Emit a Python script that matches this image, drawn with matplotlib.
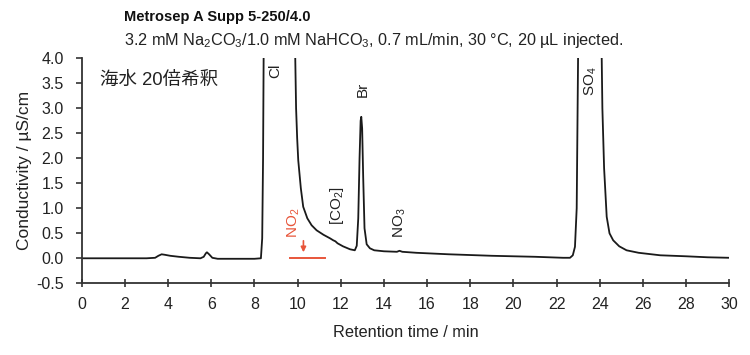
import matplotlib
matplotlib.use('Agg')
import matplotlib.pyplot as plt

plt.rcParams['font.family'] = ['Liberation Sans', 'Noto Sans CJK JP', 'DejaVu Sans']
plt.rcParams['mathtext.fontset'] = 'custom'
plt.rcParams['mathtext.rm'] = 'Liberation Sans'
plt.rcParams['mathtext.it'] = 'Liberation Sans'

# chromatogram trace (min, uS/cm)
time_min = [0.0, 1.0, 2.0, 3.0, 3.4, 3.55, 3.7, 3.85, 4.1, 4.5, 5.0, 5.5, 5.65,
            5.75, 5.8, 5.9, 6.05, 6.3, 7.0, 8.0, 8.3, 8.36, 8.40, 8.43, 9.0,
            9.88, 9.93, 9.98, 10.03, 10.15, 10.26, 10.45, 10.65, 10.88, 11.2,
            11.5, 11.65, 11.75, 11.85, 12.1, 12.43, 12.65, 12.74, 12.81, 12.87,
            12.92, 12.95, 12.99, 13.04, 13.1, 13.2, 13.35, 13.55, 14.0, 14.6,
            14.72, 14.85, 15.5, 17.0, 19.0, 21.0, 22.3, 22.62, 22.75, 22.85,
            22.93, 23.0, 23.5, 24.08, 24.12, 24.2, 24.32, 24.45, 24.62, 24.9,
            25.24, 25.8, 26.8, 28.0, 29.0, 30.0]
conductivity = [0.0, 0.0, 0.0, 0.0, 0.01, 0.05, 0.08, 0.07, 0.05, 0.03, 0.01, 0.0, 0.03,
                0.10, 0.12, 0.08, 0.01, -0.01, -0.01, -0.01, 0.0, 0.4, 2.0, 4.3, 50.0,
                4.3, 3.0, 2.4, 1.96, 1.4, 1.03, 0.8, 0.66, 0.56, 0.47,
                0.40, 0.36, 0.34, 0.30, 0.24, 0.18, 0.16, 0.25, 0.8, 2.0,
                2.75, 2.83, 2.6, 1.6, 0.6, 0.28, 0.2, 0.16, 0.14, 0.13,
                0.15, 0.13, 0.11, 0.08, 0.05, 0.03, 0.01, 0.01, 0.06, 0.23,
                1.0, 4.3, 60.0, 4.3, 3.0, 1.8, 0.83, 0.5, 0.36, 0.24,
                0.16, 0.11, 0.06, 0.04, 0.02, 0.01]

x_ticks = list(range(0, 31, 2))
y_ticks = [-0.5, 0.0, 0.5, 1.0, 1.5, 2.0, 2.5, 3.0, 3.5, 4.0]

fig = plt.figure(figsize=(7.5, 3.55), dpi=100)
ax = fig.add_axes([0.109, 0.202, 0.8634, 0.6338])

ax.plot(time_min, conductivity, color='#1a1a1a', lw=1.3, clip_on=True)

ax.set_xlim(0, 30)
ax.set_ylim(-0.5, 4.0)
ax.set_xticks(x_ticks)
ax.set_yticks(y_ticks)
ax.set_yticklabels([f'{v:.1f}' for v in y_ticks])
for s in ['top', 'right']:
    ax.spines[s].set_visible(False)
for s in ['left', 'bottom']:
    ax.spines[s].set_linewidth(1.3)
    ax.spines[s].set_color('#333333')
ax.tick_params(axis='both', labelsize=11.5, colors='#333333', labelcolor='#222222')
ax.tick_params(axis='x', direction='inout', length=6, width=1.2, pad=7)
ax.tick_params(axis='y', direction='out', length=4, width=1.2, pad=9)

ax.set_xlabel('Retention time / min', fontsize=11.8, color='#222222', labelpad=9)
ax.set_ylabel('Conductivity / µS/cm', fontsize=12.5, color='#222222', labelpad=3)

# peak labels
lbl = dict(rotation=90, ha='center', va='center', fontsize=11, color='#222222')
ax.text(8.95, 3.75, 'Cl', **lbl)
ax.text(13.0, 3.38, 'Br', **lbl)
ax.text(23.6, 3.55, r'SO$_\mathregular{4}$', **lbl)
ax.text(11.82, 1.05, r'[CO$_\mathregular{2}$]', **lbl)
ax.text(14.75, 0.70, r'NO$_\mathregular{3}$', **lbl)
ax.text(9.83, 0.71, r'NO$_\mathregular{2}$', rotation=90, ha='center', va='center',
        fontsize=11, color='#e8553a')
ax.annotate('', xy=(10.27, 0.12), xytext=(10.27, 0.35),
            arrowprops=dict(arrowstyle='-|>,head_width=0.15,head_length=0.3',
                            color='#e8553a', lw=1.2, shrinkA=0, shrinkB=0))
ax.plot([9.65, 11.27], [0.0, 0.0], color='#e8553a', lw=1.4)

ax.text(0.028, 0.90, '海水 20倍希釈', transform=ax.transAxes, fontsize=13.3,
        color='#222222', ha='left', va='center')

fig.text(0.165, 0.952, 'Metrosep A Supp 5-250/4.0', fontsize=10.5, fontweight='bold',
         color='#111111', ha='left', va='center')
fig.text(0.165, 0.885,
         r'3.2 mM Na$_\mathregular{2}$CO$_\mathregular{3}$/1.0 mM NaHCO$_\mathregular{3}$, '
         r'0.7 mL/min, 30 °C, 20 µL injected.',
         fontsize=11.7, color='#222222', ha='left', va='center')

fig.savefig('out.png', dpi=100)
